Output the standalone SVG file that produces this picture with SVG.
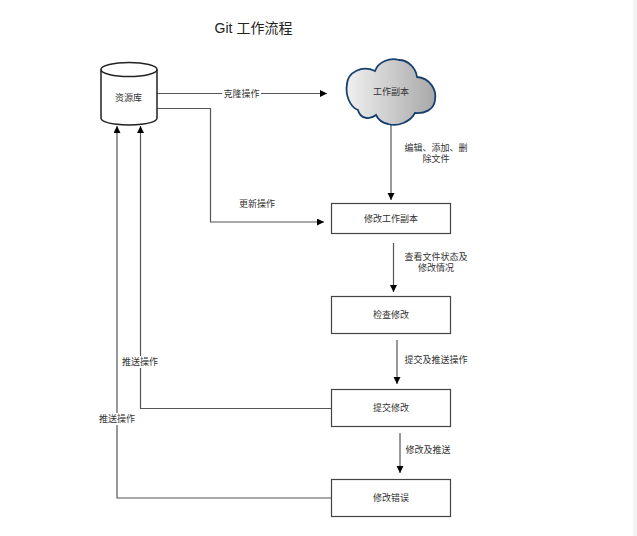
<svg xmlns="http://www.w3.org/2000/svg" width="637" height="536" viewBox="0 0 637 536">
<style>
text{font-family:"Liberation Sans","Noto Sans CJK SC",sans-serif;font-size:9px;fill:#333;text-anchor:middle}
.t{font-size:14px;fill:#222}
.box{fill:#fff;stroke:#444;stroke-width:1.2}
.c{fill:none;stroke:#555;stroke-width:1.2}
.lb{fill:#fff;stroke:none}
</style>
<defs>
<marker id="a" markerUnits="userSpaceOnUse" markerWidth="8" markerHeight="8" refX="7" refY="3.500" orient="auto"><path d="M0 0L7 3.500L0 7z" fill="#000"/></marker>
<linearGradient id="g" x1="0" y1="0" x2="1" y2="0"><stop offset="0" stop-color="#f0f0f0"/><stop offset="1" stop-color="#a8a8a8"/></linearGradient>
</defs>
<rect width="637" height="536" fill="#fff"/>
<rect x="633" y="0" width="4" height="536" fill="#f3f3f3"/>
<text class="t" x="253.500" y="33">Git 工作流程</text>
<g id="connectors">
<path class="c" marker-end="url(#a)" d="M157 93.500H327"/>
<rect class="lb" x="222" y="87" width="39" height="12"/>
<text x="241.500" y="96.500">克隆操作</text>
<path class="c" marker-end="url(#a)" d="M157 108.500H210.500V222H324"/>
<text x="257" y="207">更新操作</text>
<path class="c" marker-end="url(#a)" d="M391 125V200"/>
<text x="436" y="151">编辑、添加、删</text>
<text x="436" y="162">除文件</text>
<path class="c" marker-end="url(#a)" d="M393.500 243V292"/>
<text x="436" y="260">查看文件状态及</text>
<text x="436" y="271">修改情况</text>
<path class="c" marker-end="url(#a)" d="M397 340V384"/>
<text x="436" y="363">提交及推送操作</text>
<path class="c" marker-end="url(#a)" d="M400 433V473"/>
<text x="428" y="453">修改及推送</text>
<path class="c" marker-end="url(#a)" d="M331 408.500H140.500V126"/>
<rect class="lb" x="121" y="356" width="39" height="12"/>
<text x="140" y="365">推送操作</text>
<path class="c" marker-end="url(#a)" d="M331 498H117V126"/>
<rect class="lb" x="98" y="413" width="39" height="12"/>
<text x="117" y="422">推送操作</text>
</g>
<g id="repo">
<path d="M101 69.500V118Q101 124 129 125Q157 124 157 118V69.500" fill="#fff" stroke="#222" stroke-width="1.500"/>
<ellipse cx="129" cy="69.500" rx="28" ry="7" fill="#fff" stroke="#222" stroke-width="1.500"/>
<text x="128.500" y="101">资源库</text>
</g>
<g id="working-copy">
<path d="M358 110C350 107 345 95 347 84C348 72 362 65 375 71C378 62 390 57 399 60C408 60 416 68 417 77C430 78 437 90 435 100C434 110 424 114 415 113C410 122 398 127 388 124C382 123 378 119 376 115C370 120 360 119 358 110Z" fill="url(#g)" stroke="#17406f" stroke-width="1.800"/>
<text x="391" y="95">工作副本</text>
</g>
<g id="modify-copy"><rect class="box" x="331.500" y="203.500" width="119" height="30"/><text x="391" y="222">修改工作副本</text></g>
<g id="check"><rect class="box" x="331.500" y="296.500" width="119" height="37"/><text x="391" y="318">检查修改</text></g>
<g id="commit"><rect class="box" x="331.500" y="389.500" width="119" height="37"/><text x="391" y="411">提交修改</text></g>
<g id="fix"><rect class="box" x="331.500" y="479.500" width="119" height="37"/><text x="391" y="501">修改错误</text></g>
</svg>
